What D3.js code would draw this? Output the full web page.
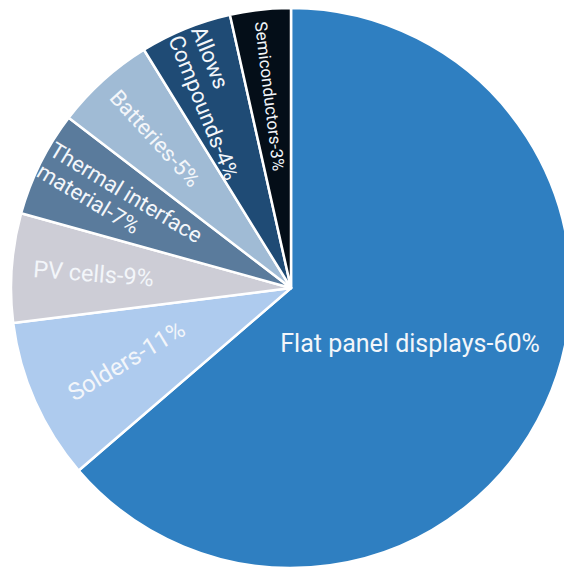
<!doctype html>
<html>
<head>
<meta charset="utf-8">
<script src="https://cdn.jsdelivr.net/npm/d3@7"></script>
<style>
  body { margin: 0; background: #fff; }
  text { font-family: Roboto, "Open Sans", sans-serif; }
</style>
</head>
<body>
<svg width="564" height="570"></svg>
<script>
// slice shares as drawn (the angles in the picture), clockwise from 12 o'clock
var categories = ["Flat panel displays", "Solders", "PV cells", "Thermal interface material",
                  "Batteries", "Allows Compounds", "Semiconductors"];
var shares = [63.7, 9.3, 6.3, 6.1, 5.8, 5.3, 3.5];
// label text as printed on the slices
var labelLines = [
  ["Flat panel displays-60%"],
  ["Solders-11%"],
  ["PV cells-9%"],
  ["Thermal interface", "material-7%"],
  ["Batteries-5%"],
  ["Allows", "Compounds-4%"],
  ["Semiconductors-3%"]
];
var colors = ["#2f7fc1", "#aecbee", "#cdcdd6", "#5a7b9c", "#a0bbd5", "#1f4b75", "#040e18"];

// label placement: distance from centre, rotation, font size, alignment
var labelLayout = [
  {r: 131, rot: 0,    size: 25, align: "middle"},
  {r: 180, rot: -31,  size: 24, align: "middle"},
  {r: 198, rot: 4.5,  size: 23.5, align: "middle"},
  {r: 191, rot: 31,   size: 22, align: "start"},
  {r: 202, rot: 47.7, size: 22, align: "middle"},
  {r: 200, rot: 68,   size: 22, align: "start"},
  {r: 193, rot: 83,   size: 17, align: "middle"}
];

var cx = 291, cy = 288, radius = 280;

var data = categories.map(function(c, i) {
  return {name: c, value: shares[i], lines: labelLines[i], color: colors[i], layout: labelLayout[i]};
});

var pie = d3.pie().sort(null).value(function(d) { return d.value; });
var arc = d3.arc().innerRadius(0).outerRadius(radius);

var svg = d3.select("svg");
var g = svg.append("g").attr("transform", "translate(" + cx + "," + cy + ")");

var arcs = pie(data);

g.selectAll("path")
  .data(arcs)
  .enter()
  .append("path")
    .attr("d", arc)
    .attr("fill", function(d) { return d.data.color; })
    .attr("stroke", "#fff")
    .attr("stroke-width", 2.5)
    .attr("stroke-linejoin", "round");

// labels
arcs.forEach(function(a) {
  var lay = a.data.layout;
  var mid = (a.startAngle + a.endAngle) / 2;
  var px = lay.r * Math.sin(mid), py = -lay.r * Math.cos(mid);
  var n = a.data.lines.length;
  var lh = lay.size * 1.12;

  var lg = g.append("g")
    .attr("transform", "translate(" + px + "," + py + ") rotate(" + lay.rot + ")");
  var t = lg.append("text")
    .attr("fill", "#f3f6fa")
    .attr("font-size", lay.size)
    .attr("text-anchor", lay.align)
    .attr("dominant-baseline", "central");
  a.data.lines.forEach(function(line, i) {
    t.append("tspan")
      .attr("x", 0)
      .attr("y", (i - (n - 1) / 2) * lh)
      .text(line);
  });
  if (lay.align === "start") {
    var maxW = 0;
    t.selectAll("tspan").each(function() {
      maxW = Math.max(maxW, this.getComputedTextLength());
    });
    t.attr("transform", "translate(" + (-maxW / 2) + ",0)");
  }
});
</script>
</body>
</html>
